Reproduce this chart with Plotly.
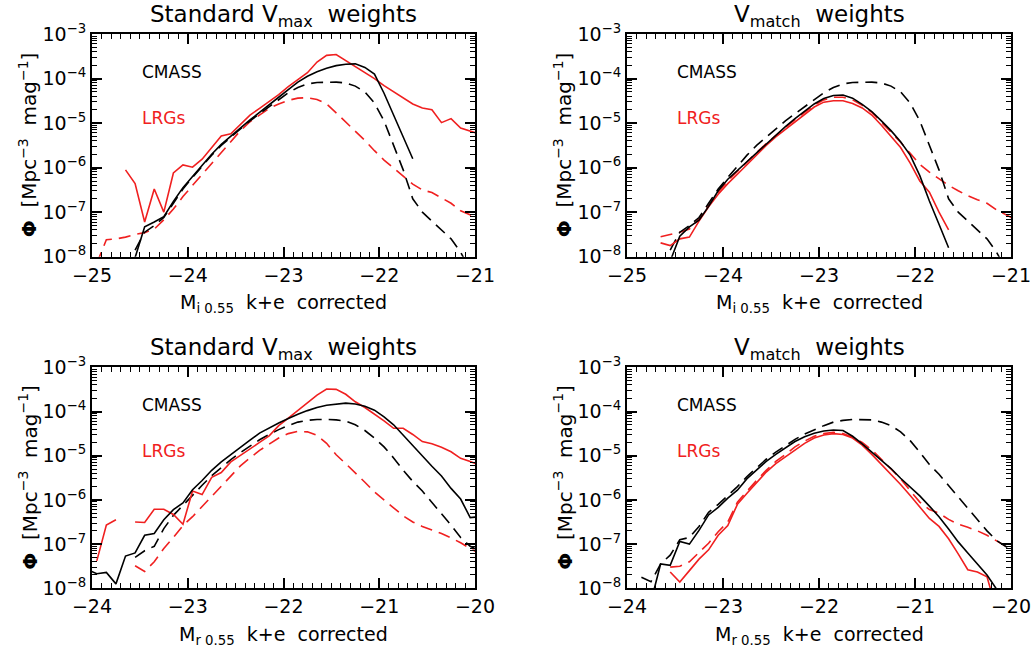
import plotly.graph_objects as go
from plotly.subplots import make_subplots

# ---------------- data (log10 Phi, Mpc^-3 mag^-1) ----------------
mag_i = [-24.95, -24.85, -24.75, -24.65, -24.55, -24.45, -24.35, -24.25, -24.15, -24.05,
         -23.95, -23.85, -23.75, -23.65, -23.55, -23.45, -23.35, -23.25, -23.15, -23.05,
         -22.95, -22.85, -22.75, -22.65, -22.55, -22.45, -22.35, -22.25, -22.15, -22.05,
         -21.95, -21.85, -21.75, -21.65, -21.55, -21.45, -21.35, -21.25, -21.15, -21.05,
         -20.95]

mag_r = [-24.05, -23.95, -23.85, -23.75, -23.65, -23.55, -23.45, -23.35, -23.25, -23.15,
         -23.05, -22.95, -22.85, -22.75, -22.65, -22.55, -22.45, -22.35, -22.25, -22.15,
         -22.05, -21.95, -21.85, -21.75, -21.65, -21.55, -21.45, -21.35, -21.25, -21.15,
         -21.05, -20.95, -20.85, -20.75, -20.65, -20.55, -20.45, -20.35, -20.25, -20.15,
         -20.05, -19.95]

N = None

# Top-left: i band, standard Vmax weights
cmass_i_vmax = [N, N, N, N, -8.02, -7.33, -7.22, -7.1, -6.76, -6.45, -6.2, -5.95, -5.7, -5.48,
                -5.29, -5.1, -4.93, -4.76, -4.6, -4.42, -4.25, -4.08, -3.95, -3.85, -3.77,
                -3.71, -3.68, -3.67, -3.75, -3.9, -4.33, -4.83, -5.3, -5.8, N, N, N, N, N, N, N]
cmass_i_vmax_dash = [N, N, N, N, -7.85, -7.45, -7.3, -7.12, -6.8, -6.48, -6.22, -5.97, -5.72,
                     -5.5, -5.31, -5.12, -4.95, -4.79, -4.63, -4.46, -4.32, -4.2, -4.12, -4.09,
                     -4.08, -4.08, -4.1, -4.17, -4.3, -4.55, -4.95, -5.48, -6.05, -6.7, -7.0,
                     -7.2, -7.4, -7.6, -7.9, -8.3, N]
lrg_i_vmax = [N, N, N, -6.05, -6.36, -7.22, -6.48, -7.0, -6.12, -5.94, -5.99, -5.81, -5.55,
              -5.29, -5.24, -5.02, -4.82, -4.67, -4.52, -4.36, -4.18, -4.02, -3.87, -3.63,
              -3.48, -3.46, -3.6, -3.74, -3.87, -4.0, -4.16, -4.3, -4.44, -4.57, -4.66, -4.70,
              -4.99, -4.9, -5.11, -5.19, -5.25]
lrg_i_vmax_dash = [-8.15, -7.62, -7.6, -7.56, -7.5, -7.46, -7.38, -7.17, -6.93, -6.65, -6.4,
                   -6.15, -5.9, -5.65, -5.4, -5.17, -4.97, -4.81, -4.67, -4.57, -4.49, -4.44,
                   -4.43, -4.47, -4.57, -4.77, -4.97, -5.18, -5.39, -5.62, -5.83, -6.01, -6.2,
                   -6.37, -6.5, -6.56, -6.68, -6.8, -6.97, -7.05, -7.15]

# Top-right: i band, Vmatch weights
cmass_i_vmatch = [N, N, N, N, -8.1, -7.54, -7.33, -7.18, -6.87, -6.52, -6.26, -6.06, -5.88,
                  -5.68, -5.47, -5.27, -5.08, -4.9, -4.73, -4.57, -4.45, -4.38, -4.37, -4.44,
                  -4.58, -4.74, -4.95, -5.17, -5.42, -5.72, -6.18, -6.75, -7.27, -7.8,
                  N, N, N, N, N, N, N]
cmass_i_vmatch_dash = [N, N, N, N, -7.85, -7.45, -7.3, -7.12, -6.8, -6.48, -6.22, -5.97, -5.72,
                       -5.5, -5.31, -5.12, -4.95, -4.79, -4.63, -4.46, -4.32, -4.2, -4.12,
                       -4.09, -4.08, -4.08, -4.1, -4.17, -4.3, -4.55, -4.95, -5.48, -6.05,
                       -6.7, -7.0, -7.2, -7.4, -7.6, -7.9, -8.3, N]
lrg_i_vmatch = [N, N, N, -7.69, -7.75, -7.6, -7.56, -7.2, -6.88, -6.6, -6.36, -6.15, -5.93,
                -5.7, -5.5, -5.31, -5.14, -4.97, -4.8, -4.64, -4.53, -4.5, -4.5, -4.56, -4.66,
                -4.82, -5.05, -5.3, -5.55, -5.9, -6.3, -6.55, -7.0, -7.4, N, N, N, N, N, N, N]
lrg_i_vmatch_dash = [N, N, N, -7.55, -7.5, -7.45, -7.38, -7.15, -6.85, -6.55, -6.3, -6.08,
                     -5.88, -5.66, -5.46, -5.27, -5.1, -4.92, -4.76, -4.6, -4.48, -4.42, -4.42,
                     -4.48, -4.6, -4.76, -4.98, -5.2, -5.43, -5.68, -5.93, -6.1, -6.25, -6.4,
                     -6.52, -6.63, -6.72, -6.8, -6.95, -7.07, -7.17]

# Bottom-left: r band, standard Vmax weights
cmass_r_vmax = [-7.58, -7.67, -7.64, -7.9, -7.27, -7.2, -6.8, -6.76, -6.45, -6.22, -6.07,
                -5.77, -5.56, -5.33, -5.14, -4.97, -4.81, -4.65, -4.49, -4.37, -4.26, -4.16,
                -4.06, -3.98, -3.91, -3.86, -3.83, -3.81, -3.83, -3.88, -3.97, -4.12, -4.3,
                -4.54, -4.78, -5.02, -5.24, -5.46, -5.74, -5.98, -6.4, -6.38]
cmass_r_vmax_dash = [N, N, N, N, N, -7.3, -7.15, -7.05, -6.65, -6.35, -6.12, -5.88, -5.67,
                     -5.45, -5.26, -5.09, -4.93, -4.78, -4.64, -4.52, -4.41, -4.32, -4.24, -4.2,
                     -4.18, -4.18, -4.19, -4.22, -4.3, -4.43, -4.6, -4.8, -5.05, -5.33, -5.58,
                     -5.8, -6.05, -6.3, -6.57, -6.85, -7.05, -7.15]
lrg_r_vmax = [N, -7.38, -6.57, -6.45, N, -6.5, -6.51, -6.21, -6.21, -6.33, -6.55, -5.8, -5.88,
              -5.49, -5.38, -5.14, -5.0, -4.86, -4.7, -4.55, -4.32, -4.15, -3.98, -3.8, -3.63,
              -3.49, -3.5, -3.61, -3.78, -3.91, -4.05, -4.21, -4.38, -4.38, -4.52, -4.68,
              -4.73, -4.81, -4.91, -5.06, -5.13, -5.22]
lrg_r_vmax_dash = [N, N, N, N, N, -7.49, -7.62, -7.4, -7.1, -6.85, -6.58, -6.38, -6.15, -5.92,
                   -5.68, -5.45, -5.23, -5.05, -4.88, -4.74, -4.6, -4.5, -4.45, -4.46, -4.54,
                   -4.72, -4.98, -5.18, -5.38, -5.6, -5.82, -6.0, -6.2, -6.36, -6.5, -6.6,
                   -6.68, -6.76, -6.86, -6.97, -7.1, -7.22]

# Bottom-right: r band, Vmatch weights
cmass_r_vmatch = [N, N, N, -8.3, -7.45, -7.48, -6.94, -7.0, -6.69, -6.34, -6.17, -5.96, -5.78,
                  -5.52, -5.32, -5.13, -4.97, -4.82, -4.68, -4.57, -4.49, -4.44, -4.42, -4.43,
                  -4.56, -4.73, -4.91, -5.1, -5.29, -5.51, -5.71, -5.91, -6.14, -6.38, -6.66,
                  -6.95, -7.2, -7.45, -7.7, -8.02, -8.3, N]
cmass_r_vmatch_dash = [N, N, -7.75, -7.85, -7.45, -7.25, -6.9, -6.85, -6.6, -6.28, -6.1, -5.9,
                       -5.7, -5.47, -5.27, -5.08, -4.92, -4.77, -4.63, -4.51, -4.41, -4.32,
                       -4.24, -4.2, -4.18, -4.18, -4.19, -4.24, -4.32, -4.46, -4.66, -4.92,
                       -5.2, -5.42, -5.68, -5.94, -6.18, -6.44, -6.7, -6.92, -7.06, -7.15]
lrg_r_vmatch = [N, N, N, N, N, -7.63, -7.86, -7.6, -7.34, -7.13, -6.8, -6.58, -6.1, -5.85,
                -5.6, -5.37, -5.18, -5.02, -4.86, -4.72, -4.6, -4.53, -4.5, -4.52, -4.6, -4.76,
                -4.97, -5.2, -5.41, -5.65, -5.9, -6.16, -6.42, -6.6, -6.88, -7.22, -7.58,
                -7.63, -7.74, -8.5, N, N]
lrg_r_vmatch_dash = [N, N, N, N, N, -7.52, -7.5, -7.4, -7.2, -6.98, -6.72, -6.5, -6.05, -5.8,
                     -5.56, -5.33, -5.13, -4.97, -4.8, -4.67, -4.56, -4.5, -4.47, -4.5, -4.58,
                     -4.7, -4.87, -5.08, -5.3, -5.52, -5.79, -6.05, -6.22, -6.3, -6.44, -6.55,
                     -6.62, -6.7, -6.8, -6.93, -7.06, -7.18]

# tick labels
xticks_i = [-25, -24, -23, -22, -21]
xticks_r = [-24, -23, -22, -21, -20]
yticks_exp = [-8, -7, -6, -5, -4, -3]

panel_titles = ["Standard V<sub>max</sub>  weights", "V<sub>match</sub>  weights",
                "Standard V<sub>max</sub>  weights", "V<sub>match</sub>  weights"]
xlabels = ["M<sub>i 0.55</sub>  k+e  corrected", "M<sub>i 0.55</sub>  k+e  corrected",
           "M<sub>r 0.55</sub>  k+e  corrected", "M<sub>r 0.55</sub>  k+e  corrected"]
ylabel = "<b>Φ</b>  [Mpc<sup>−3</sup>  mag<sup>−1</sup>]"

# ---------------- figure ----------------
FONT = "DejaVu Sans"
BLACK = "#000000"
RED = "#f02020"
DASH = "12px,7px"

W, H = 1033, 652
fig = make_subplots(rows=2, cols=2)


def phi(vals):
    return [None if v is None else 10 ** v for v in vals]


panels = [
    (1, 1, mag_i, cmass_i_vmax, cmass_i_vmax_dash, lrg_i_vmax, lrg_i_vmax_dash),
    (1, 2, mag_i, cmass_i_vmatch, cmass_i_vmatch_dash, lrg_i_vmatch, lrg_i_vmatch_dash),
    (2, 1, mag_r, cmass_r_vmax, cmass_r_vmax_dash, lrg_r_vmax, lrg_r_vmax_dash),
    (2, 2, mag_r, cmass_r_vmatch, cmass_r_vmatch_dash, lrg_r_vmatch, lrg_r_vmatch_dash),
]

for (r, c, mags, cs, cd, ls, ld) in panels:
    for ys, col, dash in [(ld, RED, DASH), (cd, BLACK, DASH), (ls, RED, "solid"), (cs, BLACK, "solid")]:
        fig.add_trace(go.Scatter(x=mags, y=phi(ys), mode="lines",
                                 line=dict(color=col, width=1.6, dash=dash),
                                 showlegend=False, hoverinfo="skip"), row=r, col=c)

# pixel geometry of the panels (screen pixels)
px_left = [(92, 475), (627, 1011)]
px_rows = [(34, 256.7), (367.3, 588.3)]


def fx(p):
    return p / W


def fy(p):
    return 1 - p / H


minor_y = [k * 10.0 ** e for e in range(-8, -3) for k in range(2, 10)]
ytickvals = [10.0 ** e for e in yticks_exp]
yticktext = ["10<sup>−%d</sup>" % (-e) for e in yticks_exp]

idx = 0
for r in (1, 2):
    for c in (1, 2):
        idx += 1
        xl, xr = px_left[c - 1]
        yt, yb = px_rows[r - 1]
        xd = [fx(xl), fx(xr)]
        yd = [fy(yb), fy(yt)]
        xt = xticks_i if r == 1 else xticks_r
        xn = "xaxis" if idx == 1 else "xaxis%d" % idx
        yn = "yaxis" if idx == 1 else "yaxis%d" % idx
        fig.layout[xn].update(
            domain=xd, range=[xt[0], xt[-1]], tickmode="array", tickvals=xt,
            ticktext=["−%d" % (-v) for v in xt], automargin=False,
            ticks="inside", ticklen=10, tickwidth=1.5, tickcolor="black",
            showline=True, linecolor="black", linewidth=2, mirror="ticks",
            showgrid=False, zeroline=False, ticklabeloverflow="allow",
            tickfont=dict(family=FONT, size=19, color="black"),
            minor=dict(dtick=0.1, ticks="inside", ticklen=5, tickwidth=1, tickcolor="black",
                       showgrid=False),
        )
        fig.layout[yn].update(
            domain=yd, type="log", range=[-8, -3], tickmode="array", tickvals=ytickvals,
            ticktext=yticktext, automargin=False,
            ticks="inside", ticklen=10, tickwidth=1.5, tickcolor="black",
            showline=True, linecolor="black", linewidth=2, mirror="ticks",
            showgrid=False, zeroline=False,
            tickfont=dict(family=FONT, size=19, color="black"),
            minor=dict(tickmode="array", tickvals=minor_y, ticks="inside", ticklen=5,
                       tickwidth=1, tickcolor="black", showgrid=False),
        )
        xc = fx((xl + xr) / 2)
        # panel title
        fig.add_annotation(text=panel_titles[idx - 1], xref="paper", yref="paper",
                           x=xc, y=fy(yt - 18), xanchor="center", yanchor="middle",
                           showarrow=False, font=dict(family=FONT, size=23, color="black"))
        # x-axis title
        fig.add_annotation(text=xlabels[idx - 1], xref="paper", yref="paper",
                           x=xc, y=fy(yb + 47), xanchor="center", yanchor="middle",
                           showarrow=False, font=dict(family=FONT, size=19, color="black"))
        # y-axis title
        fig.add_annotation(text=ylabel, xref="paper", yref="paper", textangle=-90,
                           x=fx(xl - 64), y=fy((yt + yb) / 2), xanchor="center",
                           yanchor="middle", showarrow=False,
                           font=dict(family=FONT, size=20, color="black"))
        # in-panel labels
        xref = "x domain" if idx == 1 else "x%d domain" % idx
        yref = "y domain" if idx == 1 else "y%d domain" % idx
        fig.add_annotation(text="CMASS", xref=xref, yref=yref, x=0.125, y=0.83,
                           xanchor="left", yanchor="middle", showarrow=False,
                           font=dict(family=FONT, size=17, color=BLACK))
        fig.add_annotation(text="LRGs", xref=xref, yref=yref, x=0.125, y=0.623,
                           xanchor="left", yanchor="middle", showarrow=False,
                           font=dict(family=FONT, size=17, color=RED))

fig.update_layout(template="none", width=W, height=H, margin=dict(l=0, r=0, t=0, b=0),
                  paper_bgcolor="white", plot_bgcolor="white", showlegend=False,
                  font=dict(family=FONT, color="black"))

# remove the browser's default page margin so the figure sits at the window origin
fig.write_html("out.html", config={"displayModeBar": False},
               post_script="document.body.style.margin='0px';"
                           "document.body.style.overflow='hidden';")
